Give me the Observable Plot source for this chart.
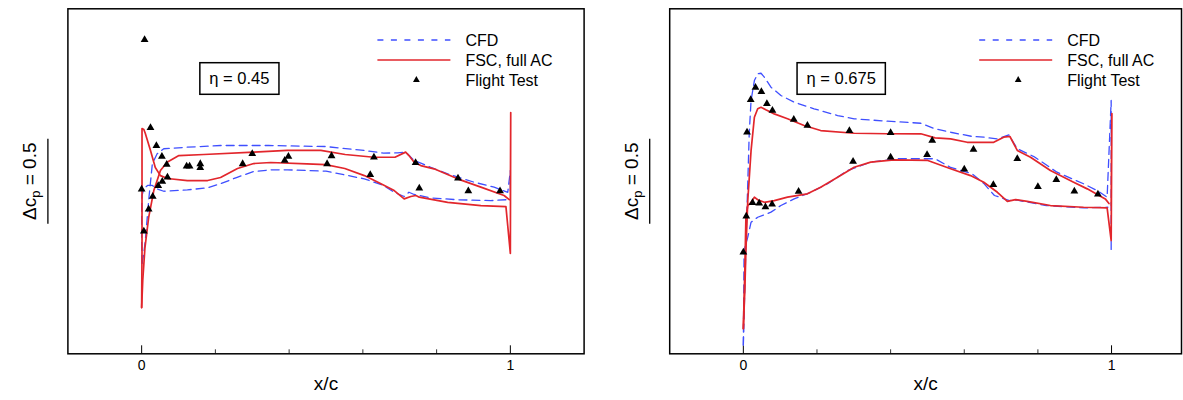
<!DOCTYPE html>
<html><head><meta charset="utf-8">
<script src="https://cdn.jsdelivr.net/npm/d3@7"></script>
<script src="https://cdn.jsdelivr.net/npm/@observablehq/plot@0.6"></script>
<style>
html,body{margin:0;padding:0;background:#fff;overflow:hidden}
#wrap{display:flex;width:1183px;height:400px;overflow:hidden}
svg{font-family:"Liberation Sans",Arial,sans-serif;display:block}
</style></head><body><div id="wrap"></div>
<script>
// ---- data: [x/c, -cp (relative)] ----
const fsc45Upper = [[0.000,-0.700],[0.003,-0.541],[0.009,-0.347],[0.019,-0.171],[0.033,-0.012],[0.051,0.106],[0.069,0.155],[0.101,0.194],[0.169,0.200],[0.304,0.214],[0.395,0.224],[0.486,0.224],[0.552,0.200],[0.630,0.184],[0.687,0.184],[0.716,0.214],[0.725,0.194],[0.739,0.155],[0.757,0.135],[0.793,0.116],[0.857,0.057],[0.920,0.008],[0.983,-0.041],[0.997,-0.065]];
const fsc45Lower = [[0.000,-0.700],[0.001,-0.365],[0.001,0.353],[0.006,0.347],[0.010,0.324],[0.024,0.224],[0.037,0.124],[0.051,0.076],[0.070,0.059],[0.124,0.047],[0.179,0.047],[0.214,0.065],[0.260,0.118],[0.304,0.147],[0.350,0.153],[0.448,0.145],[0.499,0.141],[0.551,0.118],[0.604,0.076],[0.649,0.028],[0.685,-0.012],[0.712,-0.061],[0.730,-0.047],[0.744,-0.041],[0.753,-0.051],[0.830,-0.081],[0.920,-0.100],[0.988,-0.106],[1.000,-0.382],[1.001,0.447],[1.000,-0.071]];
const cfd45Upper = [[0.001,-0.440],[0.005,-0.394],[0.010,-0.306],[0.019,-0.071],[0.029,0.145],[0.042,0.204],[0.060,0.234],[0.124,0.243],[0.214,0.253],[0.344,0.253],[0.499,0.247],[0.604,0.224],[0.656,0.208],[0.694,0.210],[0.716,0.214],[0.739,0.165],[0.784,0.125],[0.830,0.086],[0.902,0.037],[0.956,0.008],[0.993,-0.022],[1.000,0.106],[1.000,-0.041]];
const cfd45Lower = [[0.001,-0.440],[0.000,-0.306],[0.000,-0.159],[0.001,-0.041],[0.006,0.000],[0.016,0.018],[0.029,0.018],[0.042,-0.002],[0.060,-0.016],[0.124,-0.008],[0.178,0.004],[0.214,0.028],[0.259,0.066],[0.304,0.100],[0.350,0.110],[0.396,0.110],[0.500,0.102],[0.604,0.057],[0.656,0.018],[0.685,-0.022],[0.712,-0.047],[0.725,-0.022],[0.739,-0.035],[0.784,-0.055],[0.857,-0.066],[0.947,-0.071],[0.988,-0.066]];
const flight45 = [[0.008,0.875],[0.024,0.357],[0.040,0.251],[0.055,0.188],[0.068,0.141],[0.070,0.066],[0.056,0.041],[0.045,0.016],[0.030,-0.047],[0.019,-0.122],[0.006,-0.251],[0.000,-0.004],[0.122,0.131],[0.130,0.131],[0.159,0.145],[0.159,0.122],[0.274,0.145],[0.300,0.204],[0.388,0.165],[0.398,0.188],[0.503,0.145],[0.515,0.192],[0.620,0.081],[0.630,0.184],[0.743,0.151],[0.753,0.002],[0.858,0.061],[0.886,-0.015],[0.972,-0.015]];

const fsc675Upper = [[0.000,-0.824],[0.004,-0.600],[0.007,-0.365],[0.012,-0.071],[0.021,0.224],[0.030,0.419],[0.039,0.469],[0.048,0.478],[0.061,0.463],[0.084,0.439],[0.120,0.410],[0.165,0.371],[0.210,0.341],[0.301,0.325],[0.391,0.322],[0.482,0.322],[0.521,0.298],[0.563,0.292],[0.608,0.272],[0.680,0.272],[0.707,0.302],[0.724,0.306],[0.744,0.224],[0.780,0.184],[0.834,0.106],[0.897,0.037],[0.934,-0.002],[0.983,-0.061],[0.993,-0.088]];
const fsc675Lower = [[0.000,-0.824],[0.004,-0.482],[0.007,-0.169],[0.012,-0.100],[0.021,-0.081],[0.030,-0.051],[0.039,-0.066],[0.057,-0.081],[0.084,-0.071],[0.120,-0.051],[0.174,-0.031],[0.210,0.008],[0.256,0.066],[0.301,0.125],[0.346,0.155],[0.409,0.169],[0.501,0.165],[0.563,0.116],[0.617,0.076],[0.653,0.037],[0.690,-0.022],[0.717,-0.076],[0.739,-0.065],[0.771,-0.076],[0.834,-0.100],[0.924,-0.110],[0.988,-0.114],[0.999,-0.306],[1.001,0.441],[0.999,-0.100]];
const cfd675Upper = [[0.000,-0.920],[0.007,-0.324],[0.012,0.029],[0.016,0.324],[0.021,0.518],[0.030,0.635],[0.039,0.675],[0.048,0.678],[0.057,0.655],[0.075,0.596],[0.102,0.547],[0.138,0.508],[0.192,0.469],[0.256,0.429],[0.301,0.410],[0.391,0.396],[0.482,0.384],[0.521,0.351],[0.563,0.331],[0.622,0.306],[0.653,0.302],[0.690,0.292],[0.721,0.316],[0.744,0.234],[0.789,0.188],[0.852,0.096],[0.924,0.028],[0.961,-0.012],[0.988,-0.051],[0.999,0.518],[0.999,-0.365]];
const cfd675Lower = [[0.000,-0.920],[0.002,-0.365],[0.012,-0.286],[0.021,-0.198],[0.039,-0.169],[0.075,-0.139],[0.102,-0.100],[0.138,-0.061],[0.183,-0.022],[0.229,0.028],[0.283,0.106],[0.346,0.155],[0.418,0.175],[0.521,0.175],[0.563,0.124],[0.622,0.086],[0.653,0.030],[0.682,-0.041],[0.723,-0.071],[0.738,-0.066],[0.823,-0.100],[0.924,-0.114],[0.990,-0.110]];
const flight675 = [[0.000,-0.375],[0.008,-0.163],[0.010,0.331],[0.020,0.522],[0.033,0.594],[0.049,0.569],[0.064,0.498],[0.079,0.459],[0.137,0.406],[0.174,0.371],[0.288,0.340],[0.400,0.328],[0.513,0.282],[0.625,0.229],[0.744,0.175],[0.850,0.051],[0.963,-0.033],[0.899,-0.016],[0.800,0.010],[0.679,0.022],[0.600,0.113],[0.499,0.198],[0.400,0.184],[0.298,0.159],[0.150,-0.018],[0.078,-0.092],[0.060,-0.109],[0.043,-0.087],[0.025,-0.084]];

const majorTicks = [0, 1];
const minorTicks = [0.2, 0.4, 0.6, 0.8];
const legendLabels = ["CFD", "FSC, full AC", "Flight Test"];
const etaLabels = ["\u03B7 = 0.45", "\u03B7 = 0.675"];
const deltaCp = 0.5;
const yDomain = [-0.972, 1.057];

const BLUE = "#3f4fff", RED = "#e2262c";

function rows(arr, surface) { return arr.map(([x, y]) => ({x, y, surface})); }

function panel(cfdU, cfdL, fscU, fscL, flight, eta, o) {
  const H = 400, mT = 8.3, mB = 46.7;
  const ph = H - mT - mB;
  const cfd = [...rows(cfdU, "upper"), ...rows(cfdL, "lower")];
  const fsc = [...rows(fscU, "upper"), ...rows(fscL, "lower")];
  const ft = rows(flight, "ft");
  const barMid = 0.04;
  const plot = Plot.plot({
    width: o.width, height: H,
    marginLeft: o.mL, marginRight: o.mR, marginTop: mT, marginBottom: mB,
    style: {fontFamily: "Liberation Sans, Arial, sans-serif", fontSize: "14px", overflow: "visible"},
    x: {domain: o.xDomain, axis: null},
    y: {domain: yDomain, axis: null},
    marks: [
      Plot.ruleX(majorTicks, {stroke: "black", strokeWidth: 1, insetTop: ph - 8}),
      Plot.ruleX(minorTicks, {stroke: "black", strokeWidth: 0.8, insetTop: ph - 4}),
      Plot.text(majorTicks, {x: d => d, text: d => String(d), frameAnchor: "bottom", dy: 16, fontSize: 14, fill: "black"}),
      Plot.text(["x/c"], {text: d => d, frameAnchor: "bottom", dy: 36, fontSize: 19, fill: "black"}),
      Plot.ruleX([{x: o.xDomain[0], a: barMid - deltaCp / 2, b: barMid + deltaCp / 2}], {x: "x", y1: "a", y2: "b", dx: -20, stroke: "black", strokeWidth: 1.3}),
      Plot.line(cfd, {x: "x", y: "y", z: "surface", stroke: BLUE, strokeWidth: 1.3, strokeDasharray: "8,5"}),
      Plot.line(fsc, {x: "x", y: "y", z: "surface", stroke: RED, strokeWidth: 1.7}),
      Plot.dot(ft, {x: "x", y: "y", symbol: "triangle", r: 2.9, fill: "black", stroke: "none"}),
      Plot.frame({stroke: "black", strokeWidth: 1.5})
    ]
  });
  document.getElementById("wrap").appendChild(plot);
  const s = d3.select(plot);
  const L = o.mL, T = mT;
  const ys = plot.scale("y");
  // Δcp label
  const t = s.append("text")
    .attr("transform", `translate(${L - 31},${ys.apply(barMid)}) rotate(-90)`)
    .attr("text-anchor", "middle").attr("font-size", 19).attr("fill", "black");
  t.append("tspan").text("\u0394c");
  t.append("tspan").attr("font-size", 13).attr("dy", "4").text("p");
  t.append("tspan").attr("dy", "-4").text(" = 0.5");
  // legend
  const rowsY = [31.7, 51.7, 71.7].map(d => T + d);
  s.append("line").attr("x1", L + 310).attr("x2", L + 383).attr("y1", rowsY[0]).attr("y2", rowsY[0])
    .attr("stroke", BLUE).attr("stroke-width", 1.3).attr("stroke-dasharray", "6,7.5");
  s.append("line").attr("x1", L + 310).attr("x2", L + 383).attr("y1", rowsY[1]).attr("y2", rowsY[1])
    .attr("stroke", RED).attr("stroke-width", 1.7);
  s.append("path").attr("d", d3.symbol(d3.symbolTriangle, 20)()).attr("transform", `translate(${L + 349},${rowsY[2]})`).attr("fill", "black");
  legendLabels.forEach((lab, i) => {
    s.append("text").attr("x", L + 398).attr("y", rowsY[i]).attr("dy", "0.35em")
      .attr("text-anchor", "start").attr("font-size", 16).attr("fill", "black").text(lab);
  });
  // eta box
  const g = s.append("g");
  const rect = g.append("rect");
  const et = g.append("text").attr("x", L + 172).attr("y", T + 70.2).attr("dy", "0.35em")
    .attr("text-anchor", "middle").attr("font-size", 16.5).attr("fill", "black").text(eta);
  const bb = et.node().getBBox();
  rect.attr("x", bb.x - 9.5).attr("width", bb.width + 19).attr("y", T + 54.4).attr("height", 31.6)
    .attr("fill", "white").attr("stroke", "black").attr("stroke-width", 1.5);
}

panel(cfd45Upper, cfd45Lower, fsc45Upper, fsc45Lower, flight45, etaLabels[0],
  {width: 600, mL: 67.4, mR: 16.4, xDomain: [-0.2, 1.2]});
panel(cfd675Upper, cfd675Lower, fsc675Upper, fsc675Lower, flight675, etaLabels[1],
  {width: 583, mL: 69.2, mR: 2, xDomain: [-0.2, 1.19]});
</script></body></html>
